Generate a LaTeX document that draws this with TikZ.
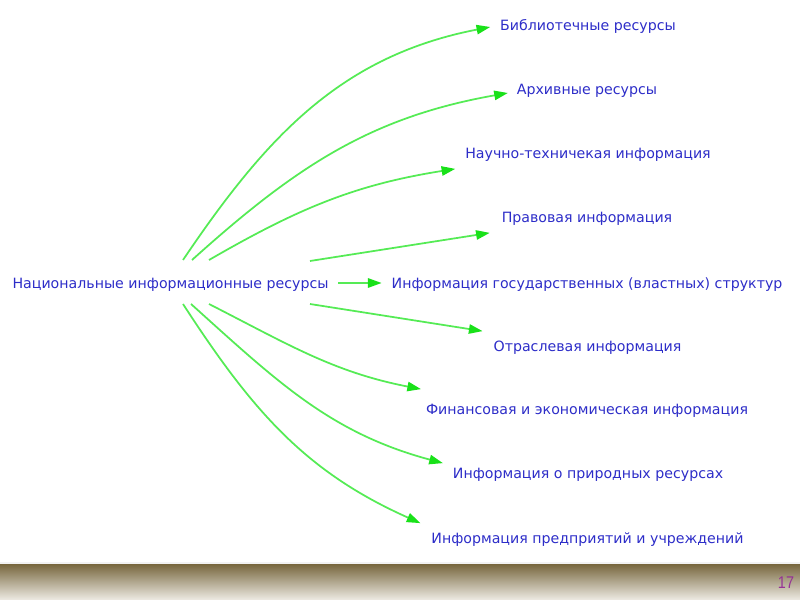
\documentclass[tikz,border=0pt]{standalone}
\usepackage{fontspec}
\setmainfont{DejaVu Sans}
\newfontfamily\numfont{Liberation Sans}
\usetikzlibrary{arrows.meta,calc}
\definecolor{txtblue}{RGB}{45,45,200}
\definecolor{lgreen}{RGB}{85,235,85}
\definecolor{hgreen}{RGB}{25,225,25}
\definecolor{bardark}{RGB}{122,106,66}
\definecolor{barlight}{RGB}{238,235,228}
\definecolor{numpurple}{RGB}{150,50,150}
\begin{document}
\begin{tikzpicture}[x=0.03cm,y=-0.03cm,
  lbl/.style={font=\fontsize{12.1pt}{14pt}\selectfont, text=txtblue,
     inner xsep=0.3cm, inner ysep=0.3cm, outer sep=0pt,
     text height=0.75em, text depth=0.25em},
  arr/.style={draw=lgreen, line width=1.5pt,
     -{Triangle[length=4.1mm,width=2.8mm,fill=hgreen,color=hgreen]}}]
\useasboundingbox (0,0) rectangle (800,600);
% bottom bar
\fill[white!90!gray] (0,562) rectangle (800,566);
\shade[top color=bardark, bottom color=barlight] (0,565) rectangle (800,600);
\node[font=\numfont\fontsize{14.5pt}{16pt}\selectfont, text=numpurple, inner sep=0, xscale=0.85, transform shape] (pg) at (786,583) {17};
% nodes
\node[lbl] (src) at (170.5,286) {Национальные информационные ресурсы};
\node[lbl] (t1) at (588,28) {Библиотечные ресурсы};
\node[lbl] (t2) at (587,92) {Архивные ресурсы};
\node[lbl] (t3) at (588,156) {Научно-техничекая информация};
\node[lbl] (t4) at (587,220) {Правовая информация};
\node[lbl] (t5) at (587,286) {Информация государственных (властных) структур};
\node[lbl] (t6) at (587.5,349) {Отраслевая информация};
\node[lbl] (t7) at (587,412) {Финансовая и экономическая информация};
\node[lbl] (t8) at (588,476) {Информация о природных ресурсах};
\node[lbl] (t9) at (587.5,541) {Информация предприятий и учреждений};
% start points
\coordinate (s1) at ($(src.center)+(12.5,-26)$);
\coordinate (s2) at ($(src.center)+(21.5,-26)$);
\coordinate (s3) at ($(src.center)+(38.5,-26)$);
\coordinate (s4) at ($(src.center)+(139.5,-25)$);
\coordinate (s6) at ($(src.center)+(139.5,18)$);
\coordinate (s7) at ($(src.center)+(38.5,18)$);
\coordinate (s8) at ($(src.center)+(20.5,18)$);
\coordinate (s9) at ($(src.center)+(12.5,18)$);
% connectors
\draw[arr] (s1) to[out=56,in=191] ($(t1.west)+(0,-1)$);
\draw[arr] (s2) to[out=42,in=190] ($(t2.west)+(1,1)$);
\draw[arr] (s3) to[out=30,in=189] ($(t3.south west)+(0,-3)$);
\draw[arr] (s4) -- ($(t4.south west)+(-2,-3)$);
\draw[arr] ($(src.east)+(0,-3)$) -- ($(t5.west)+(0,-3)$);
\draw[arr] (s6) -- ($(t6.north west)+(-1,-2)$);
\draw[arr] (s7) to[out=-27,in=169] ($(t7.north west)+(5,-7)$);
\draw[arr] (s8) to[out=-42,in=165] ($(t8.north west)+(0,3)$);
\draw[arr] (s9) to[out=-57,in=156] ($(t9.north west)+(-1,-2)$);
\end{tikzpicture}
\end{document}
